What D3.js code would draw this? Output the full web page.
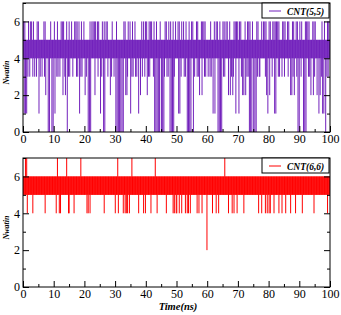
<!DOCTYPE html>
<html><head><meta charset="utf-8">
<script src="https://cdn.jsdelivr.net/npm/d3@7"></script>
<style>body{margin:0;background:#fff;overflow:hidden}</style>
</head><body>
<svg id="c" width="341" height="315"></svg>
<script>
const xTicks = [0,10,20,30,40,50,60,70,80,90,100];
const xMinor = [5,15,25,35,45,55,65,75,85,95];
const yTicks = [0,2,4,6];
const yMinor = [1,3,5,7];
const seriesNames = ["CNT(5,5)", "CNT(6,6)"];
const seriesColors = ["#7221bc", "#ff0000"];
const timeRange = [0, 100];
const cnt55Band = [4, 5];
const cnt66Band = [5, 6];
// Nwatin value reached in each 0.2 ns time bin, groups of 10 bins
const cnt55 = [
 "4616151436","5364643653","4536461535","4354636254","4050465040",
 "5614536354","3565626432","4605363546","4354656363","4615363546",
 "4253540506","0464656265","4636451536","4060465634","5425364535",
 "4060504050","4050646252","3645615363","5463535414","5256346536",
 "4625363656","4536050604","0506404050","3646353640","6050603565",
 "4561615364","5635364050","6050646053","5463635254","6264636354",
 "5345363451","4615646050","6050463635","6465246253","5236461646",
 "4164634252","4625363606","0506405040","6364335464","5646362515",
 "6264536461","6165636354","5364636454","6365425263","6254636050",
 "6536450506","0646363525","4626364525","4152536151","6505363645"
];
const cnt66 = [
 "5656767465","5656564656","5656565656","5656564656","5656565656",
 "5656467654","5456565656","5756445656","5654565656","5656765656",
 "5656464654","5656565656","5656565656","5646565656","5656565656",
 "4656745656","5654564646","4654565756","5656565646","5656564654",
 "5656565646","5656575646","5656565656","5654565656","5656464654",
 "4656465646","5656465454","5646565656","5654564656","5456565652",
 "5656565646","5656465646","5656565676","5656465656","4654565646",
 "5656565654","5656565656","5656565656","5654565646","5656465456",
 "4646565646","5656564656","5456565456","5656545656","5654565656",
 "5656465656","5656565656","5654565656","5656565656","5656545656"
];

function parse(groups, band){
  const digits = groups.join("").split("").map(Number);
  const n = digits.length;
  return digits.map((v,i)=>({
    t: timeRange[0] + i*(timeRange[1]-timeRange[0])/(n-1),
    lo: Math.min(band[0], v), hi: Math.max(band[1], v)
  }));
}

const svg = d3.select("#c");
const font = "'Liberation Serif','Times New Roman',serif";
const x = d3.scaleLinear().domain(timeRange).range([23, 330]);

const panels = [
  {top: 3, bottom: 132, data: parse(cnt55, cnt55Band), color: seriesColors[0], name: seriesNames[0]},
  {top: 158, bottom: 287, data: parse(cnt66, cnt66Band), color: seriesColors[1], name: seriesNames[1]}
];

panels.forEach((p, idx) => {
  const y = d3.scaleLinear().domain([0,7]).range([p.bottom, p.top]);
  const g = svg.append("g");
  const clipId = "clip" + idx;
  svg.append("clipPath").attr("id", clipId).append("rect")
    .attr("x", x(0)).attr("y", p.top).attr("width", x(100)-x(0)).attr("height", p.bottom-p.top);

  g.append("g").attr("clip-path", `url(#${clipId})`)
    .selectAll("line").data(p.data).join("line")
    .attr("x1", d=>x(d.t)).attr("x2", d=>x(d.t))
    .attr("y1", d=>y(d.lo)).attr("y2", d=>y(d.hi))
    .attr("stroke", p.color).attr("stroke-width", 1);

  const styleAxis = sel => {
    sel.select(".domain").remove();
    sel.selectAll("line").attr("stroke","#000");
    sel.selectAll("text").attr("font-family", font).attr("font-size", 12).attr("fill","#000");
  };
  const fmt = d3.format("d");
  g.append("g").attr("transform",`translate(0,${p.bottom})`)
    .call(d3.axisBottom(x).tickValues(xTicks).tickFormat(fmt).tickSize(-6).tickPadding(2)).call(styleAxis);
  g.append("g").attr("transform",`translate(0,${p.bottom})`)
    .call(d3.axisBottom(x).tickValues(xMinor).tickSize(-3).tickFormat("")).call(styleAxis);
  g.append("g").attr("transform",`translate(${x(0)},0)`)
    .call(d3.axisLeft(y).tickValues(yTicks).tickFormat(fmt).tickSize(-6).tickPadding(3)).call(styleAxis);
  g.append("g").attr("transform",`translate(${x(0)},0)`)
    .call(d3.axisLeft(y).tickValues(yMinor).tickSize(-3).tickFormat("")).call(styleAxis);
  g.append("g").attr("transform",`translate(${x(100)},0)`)
    .call(d3.axisRight(y).tickValues(yTicks).tickSize(-6).tickFormat("")).call(styleAxis);
  g.append("g").attr("transform",`translate(${x(100)},0)`)
    .call(d3.axisRight(y).tickValues(yMinor).tickSize(-3).tickFormat("")).call(styleAxis);

  g.append("rect").attr("x", x(0)).attr("y", p.top).attr("width", x(100)-x(0)).attr("height", p.bottom-p.top)
    .attr("fill","none").attr("stroke","#000").attr("stroke-width",1);

  g.append("text").attr("transform",`translate(9,${(p.top+p.bottom)/2+5}) rotate(-90)`)
    .attr("text-anchor","middle").attr("font-family",font).attr("font-style","italic").attr("font-weight","bold")
    .attr("font-size",8).text("Nwatin");

  const lg = g.append("g");
  lg.append("rect").attr("x",262).attr("y",p.top).attr("width",67).attr("height",15)
    .attr("fill","#fff").attr("stroke","#000").attr("stroke-width",1);
  lg.append("line").attr("x1",269).attr("x2",281).attr("y1",p.top+8).attr("y2",p.top+8)
    .attr("stroke",p.color).attr("stroke-width",1);
  lg.append("text").attr("x",287).attr("y",p.top+11.5).attr("font-family",font).attr("font-style","italic")
    .attr("font-weight","bold").attr("font-size",9.5).text(p.name);
});

svg.append("text").attr("x",178).attr("y",310).attr("text-anchor","middle")
  .attr("font-family",font).attr("font-style","italic").attr("font-weight","bold").attr("font-size",10.5)
  .text("Time(ns)");
</script>
</body></html>
